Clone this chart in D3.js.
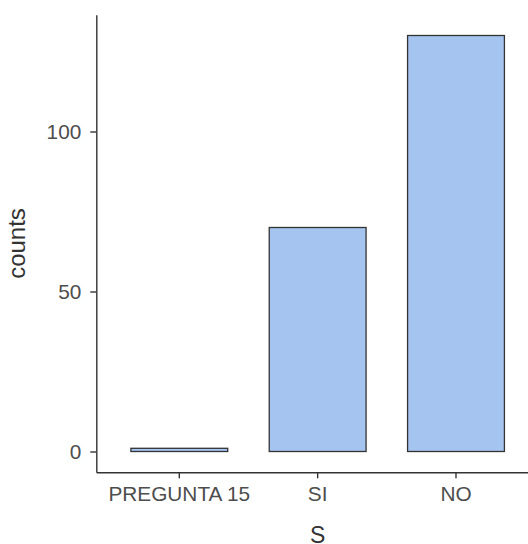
<!DOCTYPE html>
<html>
<head>
<meta charset="utf-8">
<script src="https://cdn.jsdelivr.net/npm/d3@7"></script>
<style>
  html, body { margin: 0; padding: 0; background: #fff; }
  svg { display: block; }
</style>
</head>
<body>
<svg id="chart" width="528" height="544"></svg>
<script>
const categories = ["PREGUNTA 15", "SI", "NO"];
const counts = [1, 70, 130];
const yTicks = [0, 50, 100];
const xTitle = "S";
const yTitle = "counts";

(function () {
const svg = d3.select("#chart");
const mLeft = 96.3, mRight = 539, mTop = 14.7, mBottom = 472.3;

const x = d3.scaleBand()
  .domain(categories)
  .range([mLeft, mRight])
  .paddingInner(0.3)
  .paddingOuter(0.25);

const y = d3.scaleLinear()
  .domain([-6.5, 136.5])
  .range([mBottom, mTop]);

const font = "'Liberation Sans', Arial, Helvetica, sans-serif";
const axisColor = "#333333";
const textColor = "#4d4d4d";

// bars
svg.append("g").selectAll("rect")
  .data(categories)
  .join("rect")
  .attr("x", d => x(d))
  .attr("width", x.bandwidth())
  .attr("y", (d, i) => y(counts[i]))
  .attr("height", (d, i) => y(0) - y(counts[i]))
  .attr("fill", "#a6c4f0")
  .attr("stroke", "#333333")
  .attr("stroke-width", 1.3);

// y axis
const yAxis = svg.append("g")
  .attr("transform", `translate(${mLeft},0)`)
  .call(d3.axisLeft(y).tickValues(yTicks).tickSize(6).tickPadding(9).tickSizeOuter(0));
yAxis.select(".domain").attr("stroke", axisColor).attr("stroke-width", 1.4);
yAxis.selectAll(".tick line").attr("stroke", axisColor).attr("stroke-width", 1.4);
yAxis.selectAll(".tick text")
  .attr("fill", textColor)
  .style("font-family", font)
  .style("font-size", "20.8px")
  .attr("dy", "0.35em");

// x axis
const xAxis = svg.append("g")
  .attr("transform", `translate(0,${mBottom})`)
  .call(d3.axisBottom(x).tickSize(6).tickPadding(8).tickSizeOuter(0));
xAxis.select(".domain").attr("stroke", axisColor).attr("stroke-width", 1.4);
xAxis.selectAll(".tick line").attr("stroke", axisColor).attr("stroke-width", 1.4);
xAxis.selectAll(".tick text")
  .attr("fill", textColor)
  .style("font-family", font)
  .style("font-size", "20.8px")
  .attr("dy", "0.71em");

// axis titles
svg.append("text")
  .attr("x", x("SI") + x.bandwidth() / 2)
  .attr("y", 542.5)
  .attr("text-anchor", "middle")
  .attr("fill", "#333")
  .style("font-family", font)
  .style("font-size", "23px")
  .text(xTitle);

svg.append("text")
  .attr("transform", `translate(25,${(y(136.5) + y(-6.5)) / 2}) rotate(-90)`)
  .attr("text-anchor", "middle")
  .attr("fill", "#333")
  .style("font-family", font)
  .style("font-size", "24px")
  .text(yTitle);
})();
</script>
</body>
</html>
